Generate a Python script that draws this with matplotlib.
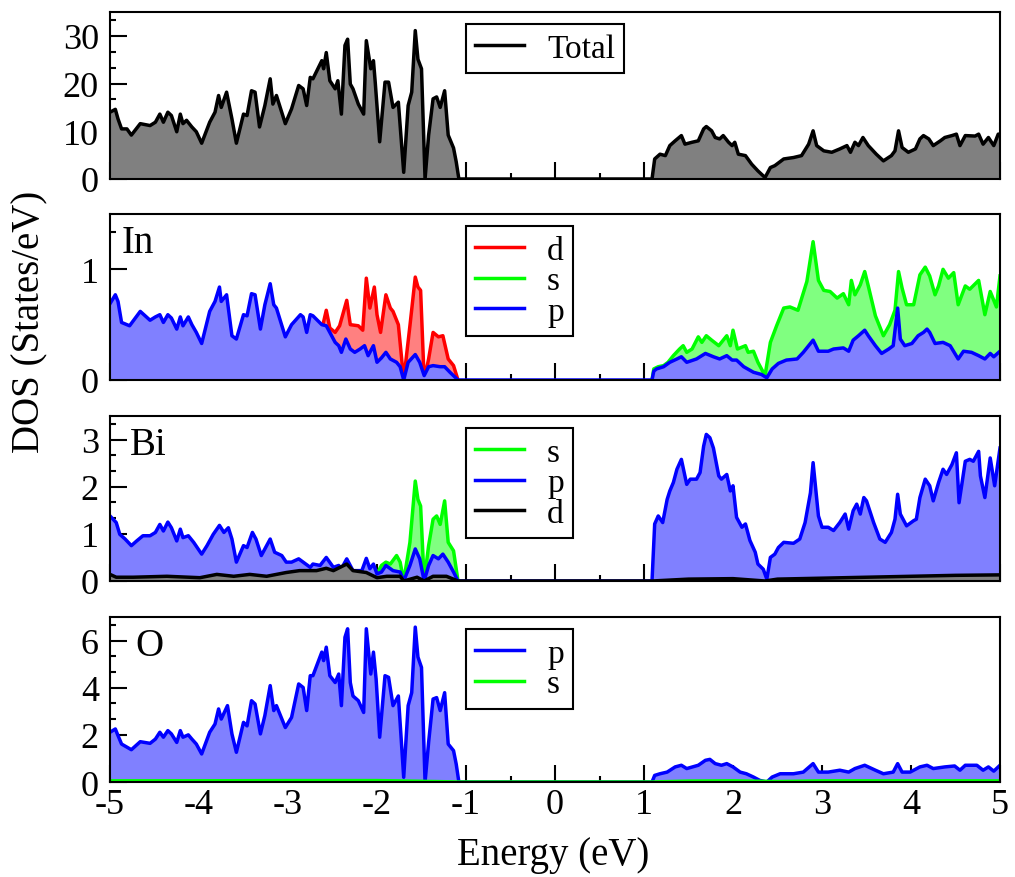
import numpy as np
import matplotlib.pyplot as plt
from matplotlib.lines import Line2D
from matplotlib.colors import to_rgb
from matplotlib.ticker import MultipleLocator

plt.rcParams['font.family'] = 'Liberation Serif'
plt.rcParams['axes.unicode_minus'] = False

# ---- Total DOS ----
total_e = [-5.00, -4.94, -4.91, -4.87, -4.81, -4.76, -4.66, -4.55, -4.49, -4.44,
           -4.40, -4.35, -4.31, -4.25, -4.21, -4.18, -4.14, -4.08, -4.03, -3.97,
           -3.88, -3.82, -3.78, -3.75, -3.69, -3.63, -3.58, -3.50, -3.46, -3.41,
           -3.37, -3.32, -3.26, -3.20, -3.17, -3.13, -3.03, -2.96, -2.88, -2.83,
           -2.79, -2.75, -2.72, -2.62, -2.60, -2.57, -2.53, -2.47, -2.44, -2.40,
           -2.36, -2.33, -2.30, -2.27, -2.21, -2.15, -2.12, -2.07, -2.04, -2.02,
           -1.97, -1.91, -1.87, -1.82, -1.76, -1.70, -1.65, -1.61, -1.57, -1.54,
           -1.50, -1.46, -1.42, -1.37, -1.33, -1.29, -1.24, -1.20, -1.14, -1.11, -1.08,
           1.09, 1.12, 1.18, 1.24, 1.29, 1.35, 1.42, 1.46, 1.54, 1.61,
           1.67, 1.70, 1.76, 1.80, 1.85, 1.89, 1.95, 1.99, 2.02, 2.06,
           2.14, 2.21, 2.28, 2.36, 2.42, 2.47, 2.57, 2.68, 2.77, 2.85,
           2.90, 2.94, 3.02, 3.11, 3.20, 3.28, 3.32, 3.37, 3.41, 3.46,
           3.52, 3.61, 3.69, 3.78, 3.82, 3.86, 3.90, 3.97, 4.05, 4.10,
           4.14, 4.20, 4.25, 4.33, 4.38, 4.46, 4.51, 4.55, 4.61, 4.72,
           4.76, 4.81, 4.87, 4.93, 4.98, 5.00]
total_dos = [14.0, 14.6, 12.6, 10.5, 10.5, 9.2, 11.6, 11.2, 11.9, 13.6,
             11.9, 14.0, 13.3, 9.9, 13.6, 11.6, 12.3, 10.9, 9.9, 7.5,
             11.9, 14.0, 17.5, 15.0, 18.2, 12.6, 7.5, 13.6, 13.3, 18.5,
             18.2, 10.9, 15.4, 21.0, 15.7, 17.5, 11.6, 14.7, 19.6, 18.9,
             15.4, 21.3, 21.0, 24.8, 23.1, 26.5, 20.6, 18.9, 20.6, 13.6,
             28.0, 29.3, 19.9, 18.9, 15.7, 13.6, 29.0, 23.1, 24.8, 20.3,
             7.8, 20.3, 20.3, 15.0, 16.1, 1.4, 15.4, 18.2, 31.1, 25.1,
             23.1, 0.0, 9.2, 16.8, 17.2, 15.0, 18.5, 9.2, 6.5, 3.6, 0.0,
             0.0, 4.2, 5.2, 4.9, 7.0, 8.0, 9.1, 7.3, 7.7, 8.0,
             10.5, 11.0, 10.1, 8.7, 8.4, 9.1, 7.7, 7.0, 7.7, 5.2,
             4.9, 3.1, 1.7, 0.3, 2.4, 2.8, 4.2, 4.5, 4.9, 7.3,
             10.1, 7.0, 5.9, 5.6, 6.3, 7.0, 5.6, 7.7, 7.0, 8.7,
             7.0, 5.2, 3.8, 4.9, 5.9, 10.1, 6.6, 5.6, 6.3, 8.4,
             9.1, 8.4, 7.0, 8.0, 8.7, 9.1, 9.4, 7.0, 9.1, 9.0,
             9.4, 7.3, 8.7, 7.0, 9.4, 9.4]

# ---- In PDOS ----
in_d_e = [-2.61, -2.57, -2.53, -2.47, -2.42, -2.34, -2.30, -2.21, -2.16, -2.12,
          -2.08, -2.03, -2.00, -1.96, -1.90, -1.85, -1.82, -1.76, -1.70, -1.63,
          -1.57, -1.54, -1.51, -1.47, -1.42, -1.37, -1.31, -1.26, -1.20, -1.14, -1.09]
in_d = [0.49, 0.63, 0.47, 0.43, 0.49, 0.72, 0.50, 0.49, 0.45, 0.92,
        0.65, 0.84, 0.59, 0.43, 0.77, 0.65, 0.62, 0.50, 0.0, 0.49,
        0.93, 0.84, 0.81, 0.0, 0.19, 0.43, 0.39, 0.40, 0.19, 0.13, 0.0]

in_s_e = [1.09, 1.11, 1.16, 1.22, 1.27, 1.33, 1.40, 1.44, 1.48, 1.54,
          1.61, 1.65, 1.70, 1.76, 1.84, 1.93, 1.97, 2.00, 2.05, 2.14,
          2.17, 2.23, 2.28, 2.36, 2.42, 2.49, 2.57, 2.64, 2.73, 2.83,
          2.90, 2.96, 3.02, 3.09, 3.17, 3.24, 3.30, 3.33, 3.37, 3.43,
          3.48, 3.52, 3.60, 3.69, 3.76, 3.82, 3.86, 3.90, 3.95, 4.03,
          4.10, 4.16, 4.21, 4.27, 4.31, 4.36, 4.42, 4.48, 4.53, 4.61,
          4.66, 4.76, 4.83, 4.89, 4.96, 5.00]
in_s = [0.0, 0.10, 0.12, 0.13, 0.16, 0.22, 0.28, 0.31, 0.25, 0.28,
        0.39, 0.34, 0.40, 0.36, 0.31, 0.40, 0.31, 0.45, 0.28, 0.31,
        0.25, 0.26, 0.16, 0.04, 0.34, 0.49, 0.65, 0.66, 0.63, 0.89,
        1.25, 0.90, 0.81, 0.80, 0.74, 0.78, 0.68, 0.90, 0.77, 0.86,
        0.98, 0.85, 0.58, 0.40, 0.50, 0.63, 0.98, 0.83, 0.68, 0.68,
        0.95, 1.02, 0.94, 0.77, 0.85, 1.00, 0.92, 0.97, 0.68, 0.85,
        0.82, 0.90, 0.59, 0.80, 0.66, 0.94]

in_p_e = [-5.00, -4.94, -4.91, -4.87, -4.78, -4.66, -4.55, -4.49, -4.44, -4.40,
          -4.35, -4.31, -4.25, -4.21, -4.18, -4.12, -4.08, -4.03, -3.97, -3.88,
          -3.82, -3.77, -3.75, -3.69, -3.63, -3.58, -3.50, -3.46, -3.41, -3.37,
          -3.31, -3.26, -3.20, -3.16, -3.13, -3.03, -2.96, -2.86, -2.83, -2.79,
          -2.75, -2.72, -2.62, -2.57, -2.53, -2.47, -2.43, -2.40, -2.35, -2.30,
          -2.25, -2.19, -2.14, -2.10, -2.04, -2.00, -1.95, -1.90, -1.85, -1.78,
          -1.74, -1.70, -1.65, -1.57, -1.52, -1.47, -1.42, -1.37, -1.29, -1.24,
          -1.18, -1.09,
          1.09, 1.11, 1.14, 1.22, 1.29, 1.37, 1.42, 1.48, 1.59, 1.69, 1.78,
          1.85, 1.93, 1.99, 2.04, 2.12, 2.23, 2.32, 2.38, 2.44, 2.51,
          2.60, 2.72, 2.79, 2.90, 2.96, 3.07, 3.13, 3.24, 3.30, 3.35,
          3.41, 3.48, 3.52, 3.60, 3.67, 3.75, 3.80, 3.85, 3.88, 3.93,
          4.01, 4.08, 4.14, 4.18, 4.21, 4.27, 4.36, 4.44, 4.53, 4.59,
          4.68, 4.76, 4.83, 4.89, 4.93, 5.00]
in_p = [0.69, 0.77, 0.71, 0.52, 0.49, 0.62, 0.54, 0.57, 0.59, 0.52,
        0.59, 0.56, 0.46, 0.57, 0.49, 0.57, 0.50, 0.43, 0.33, 0.62,
        0.71, 0.84, 0.71, 0.77, 0.40, 0.37, 0.59, 0.58, 0.78, 0.77,
        0.46, 0.68, 0.87, 0.68, 0.65, 0.39, 0.50, 0.59, 0.57, 0.43,
        0.59, 0.58, 0.50, 0.49, 0.43, 0.34, 0.31, 0.25, 0.37, 0.28,
        0.25, 0.28, 0.31, 0.22, 0.31, 0.16, 0.20, 0.25, 0.19, 0.16,
        0.12, 0.0, 0.16, 0.23, 0.16, 0.04, 0.12, 0.13, 0.12, 0.12,
        0.07, 0.0,
        0.0, 0.08, 0.10, 0.12, 0.16, 0.19, 0.21, 0.16, 0.19, 0.24, 0.21,
        0.19, 0.22, 0.18, 0.18, 0.12, 0.07, 0.05, 0.02, 0.10, 0.15,
        0.18, 0.19, 0.25, 0.36, 0.26, 0.26, 0.28, 0.29, 0.26, 0.36,
        0.40, 0.45, 0.40, 0.31, 0.24, 0.28, 0.31, 0.65, 0.37, 0.31,
        0.33, 0.40, 0.43, 0.46, 0.43, 0.33, 0.34, 0.31, 0.19, 0.26,
        0.25, 0.22, 0.19, 0.24, 0.21, 0.26]

# ---- Bi PDOS ----
bi_s_e = [-2.00, -1.95, -1.90, -1.85, -1.78, -1.74, -1.70, -1.63, -1.57, -1.54,
          -1.51, -1.47, -1.42, -1.37, -1.33, -1.29, -1.24, -1.20, -1.14, -1.09]
bi_s = [0.15, 0.33, 0.40, 0.36, 0.54, 0.40, 0.0, 0.82, 2.12, 1.73,
        1.59, 0.0, 0.75, 1.31, 1.38, 1.20, 1.70, 0.82, 0.64, 0.0]

bi_p_e = [-5.00, -4.93, -4.89, -4.83, -4.76, -4.70, -4.63, -4.55, -4.49, -4.44,
          -4.40, -4.35, -4.31, -4.25, -4.21, -4.18, -4.12, -4.06, -3.97, -3.91,
          -3.84, -3.77, -3.72, -3.67, -3.63, -3.58, -3.50, -3.46, -3.40, -3.36,
          -3.30, -3.24, -3.20, -3.15, -3.07, -3.02, -2.96, -2.88, -2.83, -2.75,
          -2.72, -2.64, -2.57, -2.49, -2.43, -2.40, -2.34, -2.27, -2.17, -2.12,
          -2.08, -2.04, -2.00, -1.95, -1.90, -1.82, -1.74, -1.70, -1.63, -1.57,
          -1.52, -1.47, -1.42, -1.37, -1.31, -1.26, -1.20, -1.14, -1.09,
          1.09, 1.12, 1.16, 1.21, 1.26, 1.29, 1.33, 1.37, 1.42, 1.48,
          1.52, 1.59, 1.63, 1.67, 1.70, 1.74, 1.78, 1.84, 1.87, 1.93,
          1.97, 2.00, 2.04, 2.10, 2.14, 2.19, 2.25, 2.28, 2.34, 2.38,
          2.42, 2.47, 2.51, 2.57, 2.68, 2.75, 2.81, 2.87, 2.90, 2.96,
          3.00, 3.07, 3.13, 3.20, 3.26, 3.30, 3.35, 3.39, 3.43, 3.47,
          3.50, 3.58, 3.65, 3.71, 3.78, 3.82, 3.85, 3.88, 3.95, 4.03,
          4.06, 4.10, 4.16, 4.21, 4.25, 4.31, 4.36, 4.40, 4.46, 4.51,
          4.54, 4.61, 4.66, 4.70, 4.76, 4.78, 4.83, 4.89, 4.94, 5.00]
bi_p = [1.38, 1.24, 0.99, 0.89, 0.75, 0.85, 0.96, 0.96, 1.03, 1.20,
        1.06, 1.25, 1.13, 0.85, 1.10, 0.92, 0.96, 0.82, 0.57, 0.75,
        0.99, 1.18, 1.03, 1.13, 0.89, 0.40, 0.75, 0.71, 1.03, 0.89,
        0.54, 0.75, 0.89, 0.61, 0.54, 0.40, 0.40, 0.47, 0.40, 0.29,
        0.36, 0.33, 0.50, 0.29, 0.33, 0.26, 0.47, 0.22, 0.22, 0.48,
        0.26, 0.36, 0.15, 0.19, 0.33, 0.22, 0.19, 0.0, 0.33, 0.68,
        0.47, 0.0, 0.33, 0.54, 0.47, 0.57, 0.40, 0.19, 0.0,
        0.0, 1.21, 1.38, 1.24, 1.73, 1.91, 2.09, 2.37, 2.58, 2.05,
        2.16, 2.16, 2.30, 2.86, 3.11, 3.04, 2.82, 2.23, 2.16, 2.26,
        1.91, 2.02, 1.35, 1.14, 1.21, 0.86, 0.61, 0.36, 0.25, 0.04,
        0.50, 0.57, 0.71, 0.82, 0.80, 0.89, 1.24, 1.87, 2.51, 1.38,
        1.14, 1.14, 1.07, 1.24, 1.42, 1.10, 1.49, 1.63, 1.42, 1.77,
        1.70, 1.24, 0.89, 0.82, 1.03, 1.31, 1.84, 1.42, 1.17, 1.28,
        1.31, 1.77, 2.16, 2.02, 1.70, 2.09, 2.37, 2.26, 2.47, 2.72,
        1.66, 2.54, 2.58, 2.54, 2.75, 2.23, 1.77, 2.61, 2.02, 2.82]

bi_d_e = [-5.00, -4.93, -4.74, -4.36, -3.99, -3.80, -3.61, -3.43, -3.24, -3.02,
          -2.87, -2.68, -2.57, -2.49, -2.34, -2.27, -2.12, -2.00, -1.89, -1.74,
          -1.70, -1.55, -1.47, -1.37, -1.22, -1.09,
          1.09, 1.50, 2.00, 2.36, 2.50, 3.00, 3.50, 4.00, 4.50, 5.00]
bi_d = [0.14, 0.08, 0.08, 0.10, 0.07, 0.14, 0.10, 0.14, 0.10, 0.18,
        0.22, 0.22, 0.27, 0.22, 0.36, 0.22, 0.18, 0.07, 0.10, 0.10,
        0.0, 0.08, 0.0, 0.10, 0.10, 0.0,
        0.0, 0.04, 0.05, 0.0, 0.04, 0.06, 0.08, 0.10, 0.12, 0.13]

# ---- O PDOS ----
o_p_e = [-5.00, -4.94, -4.91, -4.87, -4.76, -4.66, -4.55, -4.49, -4.44, -4.40,
         -4.35, -4.31, -4.25, -4.21, -4.18, -4.12, -4.08, -4.03, -3.97, -3.88,
         -3.82, -3.78, -3.75, -3.68, -3.63, -3.58, -3.50, -3.46, -3.41, -3.37,
         -3.31, -3.26, -3.20, -3.16, -3.13, -3.03, -2.96, -2.88, -2.83, -2.79,
         -2.75, -2.72, -2.62, -2.60, -2.57, -2.53, -2.47, -2.43, -2.40, -2.36,
         -2.33, -2.30, -2.27, -2.21, -2.15, -2.12, -2.07, -2.04, -2.01, -1.97,
         -1.91, -1.87, -1.82, -1.76, -1.70, -1.65, -1.61, -1.57, -1.54, -1.50,
         -1.46, -1.42, -1.37, -1.33, -1.29, -1.24, -1.20, -1.14, -1.11, -1.08,
         1.09, 1.12, 1.18, 1.26, 1.35, 1.42, 1.48, 1.61, 1.69, 1.74,
         1.80, 1.87, 1.93, 2.00, 2.08, 2.15, 2.23, 2.30, 2.38, 2.44,
         2.53, 2.68, 2.79, 2.90, 2.96, 3.07, 3.20, 3.30, 3.37, 3.48,
         3.60, 3.69, 3.80, 3.85, 3.90, 3.99, 4.10, 4.18, 4.25, 4.38,
         4.49, 4.55, 4.61, 4.74, 4.81, 4.87, 4.93, 5.00]
o_p = [2.11, 2.25, 1.97, 1.61, 1.37, 1.71, 1.64, 1.82, 2.11, 1.90,
       2.18, 2.04, 1.68, 2.18, 1.90, 2.00, 1.82, 1.61, 1.19, 2.11,
       2.46, 3.10, 2.67, 3.24, 2.04, 1.26, 2.53, 2.38, 3.45, 3.31,
       2.04, 2.82, 4.09, 3.03, 3.24, 2.31, 2.74, 4.16, 4.01, 3.03,
       4.51, 4.51, 5.51, 5.15, 5.72, 4.51, 4.22, 4.58, 3.24, 6.14,
       6.50, 4.22, 3.65, 3.45, 2.95, 6.50, 4.58, 5.51, 4.37, 1.90,
       4.51, 4.44, 3.24, 3.65, 0.20, 3.24, 3.79, 6.57, 5.30, 4.86,
       0.0, 1.68, 3.52, 3.58, 3.03, 3.79, 1.61, 1.33, 0.76, 0.0,
       0.0, 0.28, 0.35, 0.42, 0.64, 0.71, 0.57, 0.71, 0.92, 0.96,
       0.78, 0.71, 0.78, 0.64, 0.42, 0.35, 0.21, 0.07, 0.0, 0.21,
       0.35, 0.35, 0.42, 0.78, 0.42, 0.42, 0.50, 0.42, 0.57, 0.71,
       0.50, 0.35, 0.42, 0.78, 0.42, 0.42, 0.64, 0.71, 0.57, 0.64,
       0.68, 0.50, 0.71, 0.71, 0.50, 0.64, 0.46, 0.71]

o_s_e = [-5.00, -4.00, -3.00, -2.00, -1.50, -1.08, 1.09, 1.50, 2.00, 2.50, 3.00, 4.00, 5.00]
o_s = [0.05, 0.05, 0.06, 0.06, 0.03, 0.0, 0.0, 0.04, 0.05, 0.02, 0.05, 0.05, 0.05]

RED, GREEN, BLUE, BLACK = '#ff0000', '#00ff00', '#0000ff', '#000000'

# panel: (label, ymax, major, minor, sets in drawing order, legend order)
panels = [
    (None, 35, 10, 10 / 3, [('Total', total_e, total_dos, BLACK)], ['Total']),
    ('In', 1.5, 1, 1 / 3, [('d', in_d_e, in_d, RED), ('s', in_s_e, in_s, GREEN),
                           ('p', in_p_e, in_p, BLUE)], ['d', 's', 'p']),
    ('Bi', 3.5, 1, 1 / 3, [('s', bi_s_e, bi_s, GREEN), ('p', bi_p_e, bi_p, BLUE),
                           ('d', bi_d_e, bi_d, BLACK)], ['s', 'p', 'd']),
    ('O', 7, 2, 2 / 3, [('p', o_p_e, o_p, BLUE), ('s', o_s_e, o_s, GREEN)], ['p', 's']),
]
label_x = {'In': 0.0135, 'Bi': 0.0225, 'O': 0.028}


def shade(color, frac=0.5):
    # flat stand-in for the fine colour/white checker pattern
    c = np.array(to_rgb(color))
    return tuple(c * (1 - frac) + frac)


fig = plt.figure(figsize=(10.15, 8.78), dpi=100)

left, width = 110 / 1015, 890 / 1015
tops = [13, 215, 417, 618]
bottoms = [180, 381, 582, 783]

for k, (label, ymax, major, minor, sets, order) in enumerate(panels):
    ax = fig.add_axes([left, 1 - bottoms[k] / 878, width, (bottoms[k] - tops[k]) / 878])
    handles = {}
    for i, (name, e, d, c) in enumerate(sets):
        ax.fill_between(e, 0, d, facecolor=shade(c), edgecolor='none', lw=0, zorder=2 + 2 * i)
        ax.plot(e, d, color=c, lw=2.5, zorder=3 + 2 * i)
        handles[name] = Line2D([], [], color=c, lw=2.5)
    ax.set_xlim(-5, 5)
    ax.set_ylim(0, ymax)

    ax.xaxis.set_major_locator(MultipleLocator(1))
    ax.xaxis.set_minor_locator(MultipleLocator(0.5))
    ax.yaxis.set_major_locator(MultipleLocator(major))
    ax.yaxis.set_minor_locator(MultipleLocator(minor))
    ax.tick_params(which='both', direction='in', top=False, right=False, width=1.5)
    ax.tick_params(which='major', length=12.5)
    ax.tick_params(which='minor', length=4.5)
    ax.tick_params(axis='y', labelsize=26, pad=8)
    ax.tick_params(axis='x', labelsize=26, pad=4)
    if k < 3:
        ax.tick_params(axis='x', labelbottom=False)
    for sp in ax.spines.values():
        sp.set_linewidth(1.5)
        sp.set_zorder(20)

    leg = ax.legend([handles[n] for n in order], order, loc='upper left',
                    bbox_to_anchor=(0.4, 0.928), borderaxespad=0, fontsize=24,
                    frameon=True, fancybox=False, edgecolor='black', framealpha=1,
                    handlelength=1.45, handletextpad=0.7, borderpad=0.28,
                    labelspacing=0.0)
    leg.get_frame().set_linewidth(1.5)
    leg.set_zorder(30)

    if label:
        ax.text(label_x[label], 0.77, label, transform=ax.transAxes, fontsize=28,
                va='baseline', ha='left', zorder=25)

fig.text(30 / 1015, 1 - 322 / 878, 'DOS (States/eV)', rotation=90, fontsize=28,
         ha='center', va='center')
fig.text(553 / 1015, 1 - 865 / 878, 'Energy (eV)', fontsize=28, ha='center', va='baseline')

fig.savefig('out.png', dpi=100)
